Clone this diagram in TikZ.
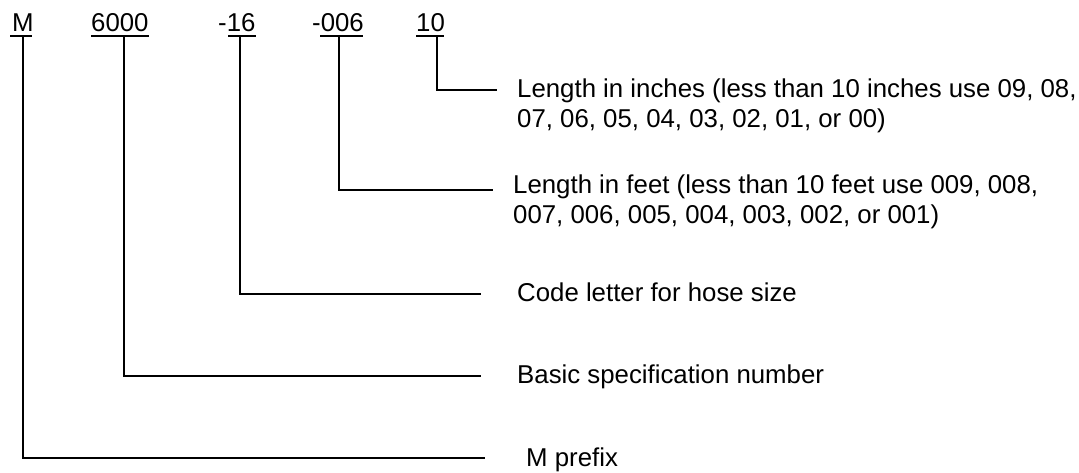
\documentclass[tikz,border=0pt]{standalone}
\usepackage{fontspec}
\setmainfont{Liberation Sans}
\begin{document}
\begin{tikzpicture}[x=1pt,y=-1pt,
  lbl/.style={anchor=base west,inner sep=0pt,font=\fontsize{25.8}{30}\selectfont},
  desc/.style={anchor=base west,inner sep=0pt,align=left,font=\fontsize{25.8}{30}\selectfont},
  conn/.style={line width=2.4pt,line cap=butt,line join=miter},
  uline/.style={line width=2pt}]
\useasboundingbox (0,0) rectangle (1079,473);
% top labels
\node[lbl] (lM) at (12,32) {M};
\node[lbl] (l6000) at (91,32) {6000};
\node[lbl] (l16) at (218,32) {-16};
\node[lbl] (l006) at (312,32) {-006};
\node[lbl] (l10) at (416,32) {10};
% underlines
\draw[uline] (10,36) -- (32,36);
\draw[uline] (91,36) -- (149,36);
\draw[uline] (228,36) -- (256,36);
\draw[uline] (320,36) -- (363,36);
\draw[uline] (416,36) -- (444,36);
% descriptions (base = last line's baseline)
\node[desc] (d10) at (517,128) {Length in inches (less than 10 inches use 09, 08,\\07, 06, 05, 04, 03, 02, 01, or 00)};
\node[desc] (d006) at (513,224) {Length in feet (less than 10 feet use 009, 008,\\007, 006, 005, 004, 003, 002, or 001)};
\node[desc] (d16) at (517,301) {Code letter for hose size};
\node[desc] (d6000) at (517,383) {Basic specification number};
\node[desc] (dM) at (526,466) {M prefix};
% connector ends
\coordinate (tM) at (23,36);
\coordinate (t6000) at (124,36);
\coordinate (t16) at (240,36);
\coordinate (t006) at (339,36);
\coordinate (t10) at (437,36);
\coordinate (eM) at (485,458);
\coordinate (e6000) at (481,376);
\coordinate (e16) at (481,294);
\coordinate (e006) at (493,190);
\coordinate (e10) at (497,90);
\draw[conn] (tM) |- (eM);
\draw[conn] (t6000) |- (e6000);
\draw[conn] (t16) |- (e16);
\draw[conn] (t006) |- (e006);
\draw[conn] (t10) |- (e10);
\end{tikzpicture}
\end{document}
